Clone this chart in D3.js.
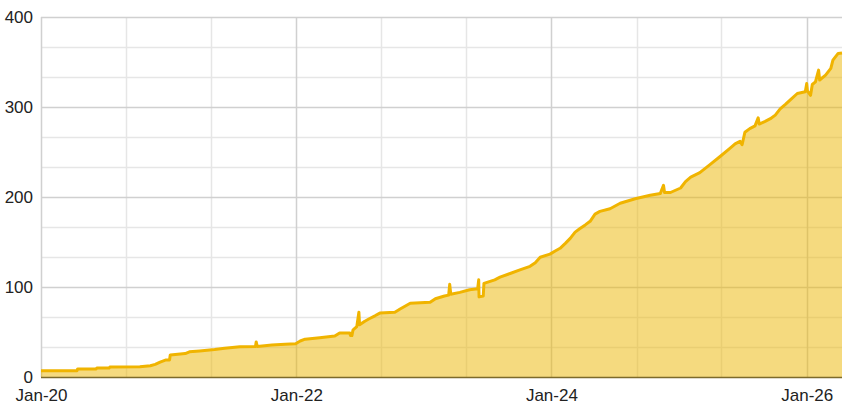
<!DOCTYPE html>
<html>
<head>
<meta charset="utf-8">
<script src="https://cdn.jsdelivr.net/npm/d3@7"></script>
<style>
  html, body { margin: 0; padding: 0; background: #fff; }
  svg { display: block; font-family: "Liberation Sans", Arial, sans-serif; }
</style>
</head>
<body>
<svg id="chart" width="849" height="408"></svg>
<script>
// ---- data ----
const dates = [
  "2020-01-01","2020-04-13","2020-04-15","2020-06-07","2020-06-09","2020-07-14","2020-07-16","2020-10-10","2020-11-09",
  "2020-11-23","2020-12-07","2020-12-24","2021-01-03","2021-01-05","2021-02-17","2021-03-01","2021-03-30","2021-05-12",
  "2021-06-10","2021-07-23","2021-09-06","2021-09-08","2021-09-11","2021-10-23","2021-11-30","2021-12-30","2022-01-12",
  "2022-01-26","2022-03-09","2022-04-21","2022-05-05","2022-06-03","2022-06-05","2022-06-09","2022-06-12","2022-06-14",
  "2022-06-23","2022-06-29","2022-07-01","2022-07-16","2022-07-30","2022-08-14","2022-08-28","2022-10-10","2022-10-25",
  "2022-11-23","2023-01-19","2023-02-03","2023-03-01","2023-03-13","2023-03-16","2023-03-19","2023-04-14","2023-05-12",
  "2023-06-04","2023-06-07","2023-06-08","2023-06-20","2023-06-22","2023-07-23","2023-08-07","2023-09-05","2023-10-03",
  "2023-11-01","2023-11-16","2023-11-30","2023-12-28","2024-01-12","2024-01-26","2024-02-10","2024-02-24","2024-03-09",
  "2024-03-23","2024-04-07","2024-04-21","2024-05-05","2024-05-19","2024-06-17","2024-07-16","2024-08-28","2024-10-10",
  "2024-11-08","2024-11-17","2024-11-20","2024-12-07","2025-01-05","2025-01-19","2025-02-03","2025-03-01","2025-03-30",
  "2025-04-28","2025-05-26","2025-06-10","2025-06-24","2025-06-30","2025-07-08","2025-07-22","2025-08-06","2025-08-15",
  "2025-08-18","2025-09-04","2025-09-19","2025-10-03","2025-10-17","2025-11-01","2025-11-15","2025-12-05","2025-12-28",
  "2026-01-01","2026-01-03","2026-01-12","2026-01-17","2026-01-26","2026-02-04","2026-02-07","2026-02-24","2026-03-11",
  "2026-03-17","2026-04-01","2026-04-12"
];
const values = [
  7, 7, 9, 9, 10, 10, 11, 11.4, 12.5,
  14, 16.5, 19, 19, 24.5, 26, 28, 29, 30.5,
  32, 33.5, 33.8, 39, 34, 35.5, 36.5, 37, 40,
  42, 43.7, 45.5, 49, 49, 46, 46, 52, 53,
  56, 72, 58, 62, 65, 68, 71, 72, 75.5,
  82, 83, 87, 90, 91, 103, 92, 94, 97,
  98, 108, 89, 90, 104, 108, 111, 115, 119,
  123, 127, 133, 136.5, 140, 143, 148.5, 154, 161,
  165, 169, 173, 181, 184, 187, 193, 198, 202,
  204, 213, 205, 205, 210, 217, 222, 227, 236,
  245, 254, 259, 262, 258, 272, 276, 279, 288,
  281, 284, 287, 291, 298, 303, 308, 315, 317,
  326, 318, 313, 325, 328, 341, 330, 335.5, 343,
  352, 359.5, 360
];
const yTicks = [0, 100, 200, 300, 400];
const yMinorTicks = [33.33, 66.67, 133.33, 166.67, 233.33, 266.67, 333.33, 366.67];
const xTickDates = ["2020-01-01", "2022-01-01", "2024-01-01", "2026-01-01"];
const xMinorDates = ["2020-09-01", "2021-05-01", "2022-09-01", "2023-05-01", "2024-09-01", "2025-05-01"];
const xDomain = ["2020-01-01", "2026-04-12"];
const yDomain = [0, 400];

// ---- setup ----
const parse = d3.utcParse("%Y-%m-%d");
const data = dates.map((d, i) => ({ date: parse(d), value: values[i] }));
const margin = { left: 41, right: 7, top: 17, bottom: 31 };
const W = 849, H = 408;
const svg = d3.select("#chart");

const x = d3.scaleUtc().domain(xDomain.map(parse)).range([margin.left, W - margin.right]);
const y = d3.scaleLinear().domain(yDomain).range([H - margin.bottom, margin.top]);

// minor gridlines
const g = svg.append("g");
g.selectAll("line.hmin").data(yMinorTicks).join("line")
  .attr("x1", margin.left).attr("x2", W - margin.right)
  .attr("y1", d => Math.round(y(d)) + 0.5).attr("y2", d => Math.round(y(d)) + 0.5)
  .attr("stroke", "#e6e6e6").attr("stroke-width", 1.5);
g.selectAll("line.vmin").data(xMinorDates.map(parse)).join("line")
  .attr("y1", margin.top).attr("y2", H - margin.bottom)
  .attr("x1", d => Math.round(x(d)) + 0.5).attr("x2", d => Math.round(x(d)) + 0.5)
  .attr("stroke", "#e6e6e6").attr("stroke-width", 1.5);
// major gridlines
g.selectAll("line.hmaj").data(yTicks.slice(1)).join("line")
  .attr("x1", margin.left).attr("x2", W - margin.right)
  .attr("y1", d => Math.round(y(d)) + 0.5).attr("y2", d => Math.round(y(d)) + 0.5)
  .attr("stroke", "#d0d0d0").attr("stroke-width", 1.5);
g.selectAll("line.vmaj").data(xTickDates.map(parse)).join("line")
  .attr("y1", margin.top).attr("y2", H - margin.bottom)
  .attr("x1", d => Math.round(x(d)) + 0.5).attr("x2", d => Math.round(x(d)) + 0.5)
  .attr("stroke", "#d0d0d0").attr("stroke-width", 1.5);

// area + line
const area = d3.area().curve(d3.curveLinear)
  .x(d => x(d.date)).y0(y(0)).y1(d => y(d.value));
const line = d3.line().curve(d3.curveLinear)
  .x(d => x(d.date)).y(d => y(d.value));

svg.append("path").datum(data).attr("d", area)
  .attr("fill", "rgba(236,182,0,0.5)");
svg.append("path").datum(data).attr("d", line)
  .attr("fill", "none").attr("stroke", "#f0b400").attr("stroke-width", 3)
  .attr("stroke-linejoin", "round");

// baseline
svg.append("line")
  .attr("x1", margin.left).attr("x2", W - margin.right)
  .attr("y1", y(0) + 0.5).attr("y2", y(0) + 0.5)
  .attr("stroke", "#7d6a2a").attr("stroke-width", 1.5);

// axes
const yAxis = d3.axisLeft(y).tickValues(yTicks).tickSize(0).tickPadding(8);
const yg = svg.append("g").attr("transform", `translate(${margin.left},0)`).call(yAxis);
yg.select(".domain").remove();
yg.selectAll("text").attr("font-size", 17).attr("fill", "#222")
  .attr("font-family", "'Liberation Sans', Arial, sans-serif");

const xAxis = d3.axisBottom(x).tickValues(xTickDates.map(parse))
  .tickFormat(d3.utcFormat("%b-%y")).tickSize(0).tickPadding(12);
const xg = svg.append("g").attr("transform", `translate(0,${y(0)})`).call(xAxis);
xg.select(".domain").remove();
xg.selectAll("text").attr("font-size", 17).attr("fill", "#222")
  .attr("font-family", "'Liberation Sans', Arial, sans-serif");
</script>
</body>
</html>
